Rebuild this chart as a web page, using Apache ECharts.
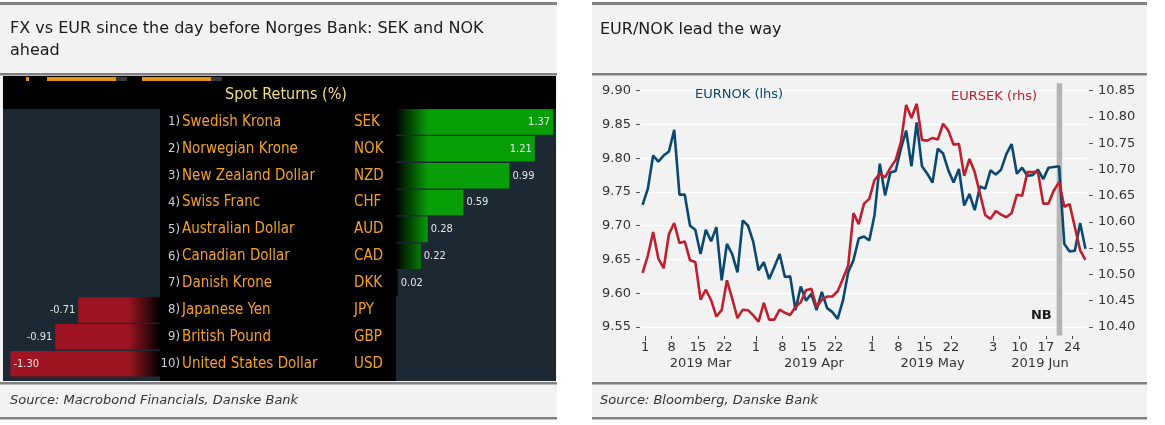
<!DOCTYPE html>
<html><head><meta charset="utf-8">
<script src="https://cdn.jsdelivr.net/npm/echarts@6/dist/echarts.min.js"></script>
<style>html,body{margin:0;padding:0;background:#fff}#c{width:1165px;height:425px}</style>
</head><body><div id="c"></div>
<script>
// ---------- Right panel data ----------
const dates = [
'2019-02-28',
'2019-03-01','2019-03-04','2019-03-05','2019-03-06','2019-03-07','2019-03-08','2019-03-11','2019-03-12','2019-03-13','2019-03-14','2019-03-15','2019-03-18','2019-03-19','2019-03-20','2019-03-21','2019-03-22','2019-03-25','2019-03-26','2019-03-27','2019-03-28','2019-03-29',
'2019-04-01','2019-04-02','2019-04-03','2019-04-04','2019-04-05','2019-04-08','2019-04-09','2019-04-10','2019-04-11','2019-04-12','2019-04-15','2019-04-16','2019-04-17','2019-04-18','2019-04-19','2019-04-22','2019-04-23','2019-04-24','2019-04-25','2019-04-26','2019-04-29','2019-04-30',
'2019-05-01','2019-05-02','2019-05-03','2019-05-06','2019-05-07','2019-05-08','2019-05-09','2019-05-10','2019-05-13','2019-05-14','2019-05-15','2019-05-16','2019-05-17','2019-05-20','2019-05-21','2019-05-22','2019-05-23','2019-05-24','2019-05-27','2019-05-28','2019-05-29','2019-05-30','2019-05-31',
'2019-06-03','2019-06-04','2019-06-05','2019-06-06','2019-06-07','2019-06-10','2019-06-11','2019-06-12','2019-06-13','2019-06-14','2019-06-17','2019-06-18','2019-06-19','2019-06-20','2019-06-21','2019-06-24','2019-06-25','2019-06-26'
];
const eurnok = [
9.731,9.755,9.804,9.795,9.804,9.810,9.842,9.746,9.746,9.700,
9.694,9.658,9.694,9.677,9.698,9.619,9.673,9.658,9.631,9.708,
9.700,9.676,9.634,9.646,9.621,9.639,9.658,9.624,9.625,9.575,
9.610,9.589,9.599,9.575,9.602,9.578,9.572,9.562,9.589,9.631,
9.649,9.681,9.684,9.678,9.716,9.792,9.745,9.779,9.781,9.814,
9.841,9.788,9.853,9.788,9.777,9.764,9.814,9.807,9.782,9.764,
9.784,9.730,9.747,9.723,9.758,9.755,9.782,9.776,9.783,9.806,
9.821,9.777,9.786,9.774,9.775,9.783,9.769,9.786,9.787,9.788,
9.673,9.662,9.663,9.704,9.666
];
const eursek = [
10.503,10.536,10.581,10.530,10.512,10.577,10.598,10.560,10.563,10.527,
10.524,10.452,10.471,10.451,10.420,10.432,10.489,10.454,10.417,10.433,
10.432,10.422,10.410,10.446,10.414,10.414,10.433,10.427,10.423,10.438,
10.447,10.470,10.473,10.438,10.452,10.458,10.458,10.468,10.492,10.517,
10.617,10.596,10.635,10.644,10.680,10.692,10.685,10.703,10.718,10.752,
10.823,10.798,10.825,10.756,10.755,10.760,10.757,10.787,10.774,10.747,
10.749,10.688,10.720,10.695,10.654,10.613,10.606,10.621,10.614,10.609,
10.617,10.652,10.650,10.695,10.695,10.695,10.635,10.635,10.660,10.676,
10.629,10.634,10.590,10.546,10.528
];
const tickDates = ['2019-03-01','2019-03-08','2019-03-15','2019-03-22',
                   '2019-04-01','2019-04-08','2019-04-15','2019-04-22',
                   '2019-05-01','2019-05-08','2019-05-15','2019-05-22',
                   '2019-06-03','2019-06-10','2019-06-17','2019-06-24'];
const monthStartDates = ['2019-03-01','2019-04-01','2019-05-01','2019-06-03'];
const monthLabels = ['2019 Mar','2019 Apr','2019 May','2019 Jun'];
const nbDate = '2019-06-19';
const leftAxisRange = [9.55, 9.90, 0.05];
const rightAxisRange = [10.40, 10.85, 0.05];
const seriesNames = ['EURNOK (lhs)', 'EURSEK (rhs)'];

// ---------- Left panel data ----------
const currencies = ['Swedish Krona','Norwegian Krone','New Zealand Dollar','Swiss Franc','Australian Dollar',
                    'Canadian Dollar','Danish Krone','Japanese Yen','British Pound','United States Dollar'];
const codes = ['SEK','NOK','NZD','CHF','AUD','CAD','DKK','JPY','GBP','USD'];
const spotReturns = [1.37,1.21,0.99,0.59,0.28,0.22,0.02,-0.71,-0.91,-1.30];

// ---------- styling ----------
const FONT = "'DejaVu Sans', sans-serif";
const NARROW = "'Liberation Sans Narrow','DejaVu Sans Condensed','Arial Narrow','Liberation Sans',sans-serif";
const BLUE = '#0b4870', RED = '#c01f2e';
const PANEL = '#f2f2f2', RULE = '#808080';
const ORANGE = '#f7a01e';
const ROWFONT = 15;

const xMin = -0.3, xMax = dates.length - 1 + 0.3;
const idxOf = d => dates.indexOf(d);
const tickPos = tickDates.map(d => idxOf(d) - 0.5);
const monthStartPos = monthStartDates.map(d => idxOf(d) - 0.5);
const monthMidPos = monthStartPos.map((s, i) => (s + (i + 1 < monthStartPos.length ? monthStartPos[i + 1] : xMax)) / 2);
const nbIdx = idxOf(nbDate);

const chart = echarts.init(document.getElementById('c'), null, {renderer: 'canvas'});

const greenGrad = {type:'linear', x:396, y:0, x2:428, y2:0, global:true,
  colorStops:[{offset:0,color:'#000000'},{offset:1,color:'#089e08'}]};
const redGrad = {type:'linear', x:128, y:0, x2:160, y2:0, global:true,
  colorStops:[{offset:0,color:'#9e1422'},{offset:1,color:'#000000'}]};

const valLabel = {show:true, color:'#e6e6e6', fontSize:11, fontFamily:NARROW, distance:3,
  formatter: p => (typeof p.value === 'number' ? p.value.toFixed(2) : '')};

const negData = spotReturns.map(v => v < 0 ? {value:v, label:{position: Math.abs(v) > 1 ? 'insideLeft' : 'left'}} : '-');
const posData = spotReturns.map(v => v >= 0 ? {value:v, label:{position: Math.abs(v) > 1 ? 'insideRight' : 'right'}} : '-');
const ranks = currencies.map((n, i) => `${i + 1})`);

function hline(x, y, w, h) { return {type:'rect', shape:{x, y, width:w, height:h}, style:{fill:RULE}, z:-5, silent:true}; }
function rowAxis(data, align, margin, color, size) {
  return {type:'category', gridIndex:2, data, inverse:true, position:'left',
    axisLine:{show:false, onZero:false}, axisTick:{show:false}, splitLine:{show:false},
    axisLabel:{show:true, interval:0, align, margin, color, fontSize:size, fontFamily:NARROW}};
}

const option = {
  animation: false,
  backgroundColor: '#ffffff',
  title: [
    {text:'FX vs EUR since the day before Norges Bank: SEK and NOK\nahead', left:10, top:18, padding:0,
     textStyle:{fontFamily:FONT, fontSize:16, fontWeight:'normal', color:'#1a1a1a', lineHeight:22}},
    {text:'EUR/NOK lead the way', left:600, top:19, padding:0,
     textStyle:{fontFamily:FONT, fontSize:16, fontWeight:'normal', color:'#1a1a1a', lineHeight:22}},
    {text:'Source: Macrobond Financials, Danske Bank', left:10, top:393, padding:0,
     textStyle:{fontFamily:FONT, fontSize:13, fontStyle:'italic', fontWeight:'normal', color:'#333', lineHeight:16}},
    {text:'Source: Bloomberg, Danske Bank', left:600, top:393, padding:0,
     textStyle:{fontFamily:FONT, fontSize:13, fontStyle:'italic', fontWeight:'normal', color:'#333', lineHeight:16}}
  ],
  graphic: {elements: [
    {type:'rect', shape:{x:0, y:4, width:557, height:415}, style:{fill:PANEL}, z:-20, silent:true},
    {type:'rect', shape:{x:592, y:4, width:555, height:415}, style:{fill:PANEL}, z:-20, silent:true},
    hline(0, 2, 557, 3), hline(0, 73, 557, 2.5), hline(0, 382, 557, 2.5), hline(0, 417, 557, 2.5),
    hline(592, 2, 555, 3), hline(592, 73, 555, 2.5), hline(592, 382, 555, 2.5), hline(592, 417, 555, 2.5),
    {type:'rect', shape:{x:3, y:76, width:553, height:305}, style:{fill:'#000'}, z:-10, silent:true},
    {type:'rect', shape:{x:3, y:109, width:157, height:272}, style:{fill:'#1d2932'}, z:-9, silent:true},
    {type:'rect', shape:{x:396, y:109, width:160, height:272}, style:{fill:'#1d2932'}, z:-9, silent:true},
    {type:'rect', shape:{x:26, y:77, width:3, height:4}, style:{fill:'#e8901c'}, z:-8, silent:true},
    {type:'rect', shape:{x:47, y:77, width:69, height:4}, style:{fill:'#e8901c'}, z:-8, silent:true},
    {type:'rect', shape:{x:116, y:77, width:11, height:4}, style:{fill:'#3a3a3a'}, z:-8, silent:true},
    {type:'rect', shape:{x:142, y:77, width:69, height:4}, style:{fill:'#e8901c'}, z:-8, silent:true},
    {type:'rect', shape:{x:211, y:77, width:11, height:4}, style:{fill:'#3a3a3a'}, z:-8, silent:true},
    {type:'text', x:286, y:95, style:{text:'Spot Returns (%)', fill:'#f3df86', font:`16px ${NARROW}`, align:'center', verticalAlign:'middle'}, z:10, silent:true},
    {type:'text', x:695, y:94.5, style:{text:seriesNames[0], fill:BLUE, font:`13px ${FONT}`, align:'left', verticalAlign:'middle'}, z:10, silent:true},
    {type:'text', x:951, y:96.5, style:{text:seriesNames[1], fill:RED, font:`13px ${FONT}`, align:'left', verticalAlign:'middle'}, z:10, silent:true}
  ]},
  grid: [
    {left:641, top:90.7, width:446, height:236.3, outerBoundsMode:'none', containLabel:false},
    {left:3, top:108.5, width:157, height:268.6, outerBoundsMode:'none', containLabel:false},
    {left:395.5, top:108.5, width:160.5, height:268.6, outerBoundsMode:'none', containLabel:false}
  ],
  xAxis: [
    {type:'value', gridIndex:0, min:xMin, max:xMax, position:'bottom', offset:9,
     axisLine:{show:false, onZero:false}, splitLine:{show:false},
     axisTick:{show:true, length:3, customValues:tickPos, lineStyle:{color:'#444'}},
     axisLabel:{show:true, customValues:tickPos, margin:5, color:'#333', fontSize:13, fontFamily:FONT,
       formatter: v => String(parseInt(dates[Math.round(v + 0.5)].slice(8), 10))}},
    {type:'value', gridIndex:0, min:xMin, max:xMax, position:'bottom', offset:9,
     axisLine:{show:false, onZero:false}, splitLine:{show:false},
     axisTick:{show:true, length:5, customValues:monthStartPos, lineStyle:{color:'#444'}},
     axisLabel:{show:false}},
    {type:'value', gridIndex:0, min:xMin, max:xMax, position:'bottom', offset:9,
     axisLine:{show:false, onZero:false}, splitLine:{show:false}, axisTick:{show:false},
     axisLabel:{show:true, customValues:monthMidPos, margin:21, color:'#333', fontSize:13, fontFamily:FONT,
       formatter: v => { const k = monthMidPos.findIndex(m => Math.abs(m - v) < 1e-6); return k >= 0 ? monthLabels[k] : ''; }}},
    {type:'value', gridIndex:1, min:-1.365, max:0, show:false, axisLine:{onZero:false}},
    {type:'value', gridIndex:2, min:0, max:1.395, show:false, axisLine:{onZero:false}}
  ],
  yAxis: [
    {type:'value', gridIndex:0, min:leftAxisRange[0], max:leftAxisRange[1], interval:leftAxisRange[2], position:'left', offset:1,
     axisLine:{show:false, onZero:false}, axisTick:{show:true, length:4, lineStyle:{color:'#555'}},
     axisLabel:{margin:9, color:'#333', fontSize:13, fontFamily:FONT, formatter: v => v.toFixed(2)},
     splitLine:{show:true, lineStyle:{color:'#ffffff', width:1.3}}},
    {type:'value', gridIndex:0, min:rightAxisRange[0], max:rightAxisRange[1], interval:rightAxisRange[2], position:'right', offset:2,
     axisLine:{show:false, onZero:false}, axisTick:{show:true, length:4, lineStyle:{color:'#555'}},
     axisLabel:{margin:9, color:'#333', fontSize:13, fontFamily:FONT, formatter: v => v.toFixed(2)},
     splitLine:{show:false}},
    {type:'category', gridIndex:1, data:currencies, inverse:true, show:false, axisLine:{onZero:false}},
    rowAxis(currencies, 'left', 395.5 - 182, ORANGE, ROWFONT),
    rowAxis(ranks, 'right', 395.5 - 180, '#c9d0dc', 13),
    rowAxis(codes, 'left', 395.5 - 354, ORANGE, ROWFONT)
  ],
  series: [
    {type:'custom', xAxisIndex:0, yAxisIndex:0, z:1, clip:false, silent:true,
     data:[[nbIdx, leftAxisRange[0]]],
     renderItem: (params, api) => {
       const cs = params.coordSys;
       const i = api.value(0);
       const x1 = api.coord([i - 0.45, api.value(1)])[0];
       const x2 = api.coord([i + 0.6, api.value(1)])[0];
       return {type:'group', children:[
         {type:'rect', shape:{x:x1, y:cs.y - 7.5, width:x2 - x1, height:cs.height + 16}, style:{fill:'#b4b4b4'}},
         {type:'text', style:{text:'NB', x:x1 - 5, y:cs.y + cs.height - 11, align:'right', verticalAlign:'middle',
           fontSize:13, fontWeight:'bold', fontFamily:FONT, fill:'#1a1a1a'}}
       ]};
     }},
    {type:'line', name:'EURNOK', xAxisIndex:0, yAxisIndex:0, z:3, symbol:'none', showSymbol:false,
     data: eurnok.map((v, i) => [i, v]), lineStyle:{color:BLUE, width:2.6}},
    {type:'line', name:'EURSEK', xAxisIndex:0, yAxisIndex:1, z:4, symbol:'none', showSymbol:false,
     data: eursek.map((v, i) => [i, v]), lineStyle:{color:RED, width:2.6}},
    {type:'bar', xAxisIndex:3, yAxisIndex:2, data:negData, barCategoryGap:'5%',
     itemStyle:{color:redGrad}, label:valLabel},
    {type:'bar', xAxisIndex:4, yAxisIndex:3, data:posData, barCategoryGap:'5%',
     itemStyle:{color:greenGrad}, label:valLabel}
  ]
};
chart.setOption(option);
</script></body></html>
